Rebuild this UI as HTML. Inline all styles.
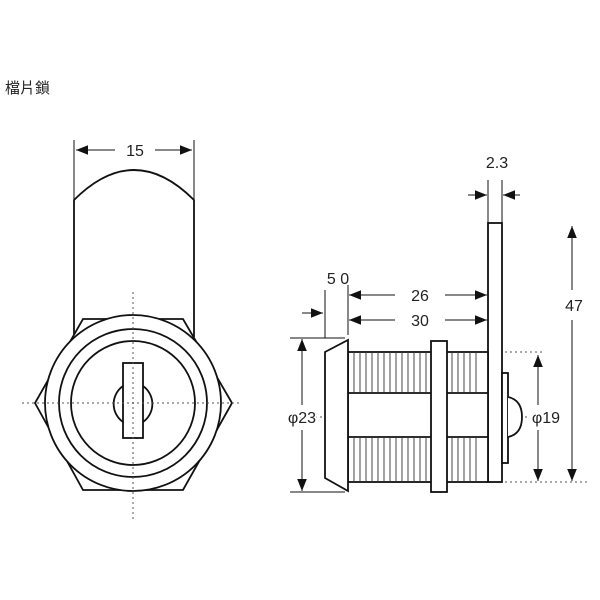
<!DOCTYPE html>
<html><head><meta charset="utf-8"><style>
body{margin:0;background:#fff;width:600px;height:600px;overflow:hidden}
svg{display:block}
text{font-family:"Liberation Sans",sans-serif;fill:#222}
</style></head><body>
<svg width="600" height="600" viewBox="0 0 600 600">
<defs><marker id="a" viewBox="0 0 10 10" refX="10" refY="5" markerWidth="12" markerHeight="12" markerUnits="userSpaceOnUse" orient="auto-start-reverse"><path d="M0,1 L10,5 L0,9 z" fill="#111"/></marker></defs>
<text x="5" y="93" font-size="15" style="font-family:'Liberation Sans','Noto Sans CJK TC',sans-serif">檔片鎖</text>
<g stroke="#111" fill="none" stroke-width="1.8">
<path d="M74,337 L74,200 Q134,140 194,200 L194,337"/>
<path d="M83,319 L183,319 L232,403 L183,490 L83,490 L35,403 Z" fill="#fff"/>
<circle cx="133" cy="403" r="88" fill="#fff"/>
<circle cx="133" cy="403" r="74"/>
<circle cx="133" cy="403" r="62"/>
<path d="M123,386 A22,22 0 0 0 123,422 M143,386 A22,22 0 0 1 143,422"/>
<rect x="123" y="363" width="20" height="75"/>
</g>
<g stroke="#555" stroke-width="1" stroke-dasharray="2,3" fill="none">
<line x1="22" y1="403" x2="240" y2="403"/><line x1="133" y1="292" x2="133" y2="522"/>
<line x1="295" y1="417" x2="530" y2="417"/>
<line x1="505" y1="352" x2="545" y2="352"/><line x1="505" y1="482" x2="590" y2="482"/>
</g>
<g stroke="#111" stroke-width="1" fill="none">
<line x1="74" y1="140" x2="74" y2="200"/><line x1="194" y1="140" x2="194" y2="200"/>
<line x1="76" y1="150" x2="115" y2="150" marker-start="url(#a)"/><line x1="155" y1="150" x2="192" y2="150" marker-end="url(#a)"/>
<line x1="488" y1="180" x2="488" y2="223"/><line x1="502" y1="180" x2="502" y2="223"/>
<line x1="468" y1="195" x2="487" y2="195" marker-end="url(#a)"/><line x1="520" y1="195" x2="503" y2="195" marker-end="url(#a)"/>
<line x1="572" y1="226" x2="572" y2="290" marker-start="url(#a)"/><line x1="572" y1="320" x2="572" y2="481" marker-end="url(#a)"/>
<line x1="538" y1="355" x2="538" y2="405" marker-start="url(#a)"/><line x1="538" y1="430" x2="538" y2="481" marker-end="url(#a)"/>
<line x1="302" y1="339" x2="302" y2="405" marker-start="url(#a)"/><line x1="302" y1="430" x2="302" y2="491" marker-end="url(#a)"/>
<line x1="290" y1="338" x2="345" y2="338"/><line x1="290" y1="492" x2="345" y2="492"/>
<line x1="325" y1="290" x2="325" y2="338"/><line x1="348" y1="285" x2="348" y2="335"/>
<line x1="302" y1="313" x2="323" y2="313" marker-end="url(#a)"/>
<line x1="349" y1="295" x2="395" y2="295" marker-start="url(#a)"/><line x1="445" y1="295" x2="487" y2="295" marker-end="url(#a)"/>
<line x1="349" y1="320" x2="395" y2="320" marker-start="url(#a)"/><line x1="445" y1="320" x2="487" y2="320" marker-end="url(#a)"/>
</g>
<g stroke="#111" stroke-width="1.8" fill="#fff">
<rect x="488" y="223" width="14" height="259"/>
<rect x="502" y="373" width="6" height="90"/>
<path d="M508,397 Q522,400 522,417 Q522,434 508,437"/>
<rect x="348" y="352" width="140" height="130"/>
<line x1="348" y1="393" x2="488" y2="393"/><line x1="348" y1="437" x2="488" y2="437"/>
<path d="M325,352 L348,340 L348,491 L325,478 Z"/>
<rect x="431" y="341" width="16" height="151"/>
</g>
<g stroke="#333" stroke-width="0.9">
<path d="M354,352V393M360,352V393M366,352V393M372,352V393M378,352V393M384,352V393M390,352V393M396,352V393M402,352V393M408,352V393M414,352V393M420,352V393M426,352V393M452,352V393M458,352V393M464,352V393M470,352V393M476,352V393M354,437V482M360,437V482M366,437V482M372,437V482M378,437V482M384,437V482M390,437V482M396,437V482M402,437V482M408,437V482M414,437V482M420,437V482M426,437V482M452,437V482M458,437V482M464,437V482M470,437V482M476,437V482"/>
</g>
<g font-size="16" text-anchor="middle">
<text x="135" y="156">15</text>
<text x="497" y="168">2.3</text>
<text x="574" y="311">47</text>
<text x="338" y="284">5 0</text>
<text x="420" y="301">26</text>
<text x="420" y="326">30</text>
<text x="302" y="423" style="paint-order:stroke" stroke="#fff" stroke-width="4">φ23</text>
<text x="546" y="423" style="paint-order:stroke" stroke="#fff" stroke-width="4">φ19</text>
</g>
</svg>
</body></html>
